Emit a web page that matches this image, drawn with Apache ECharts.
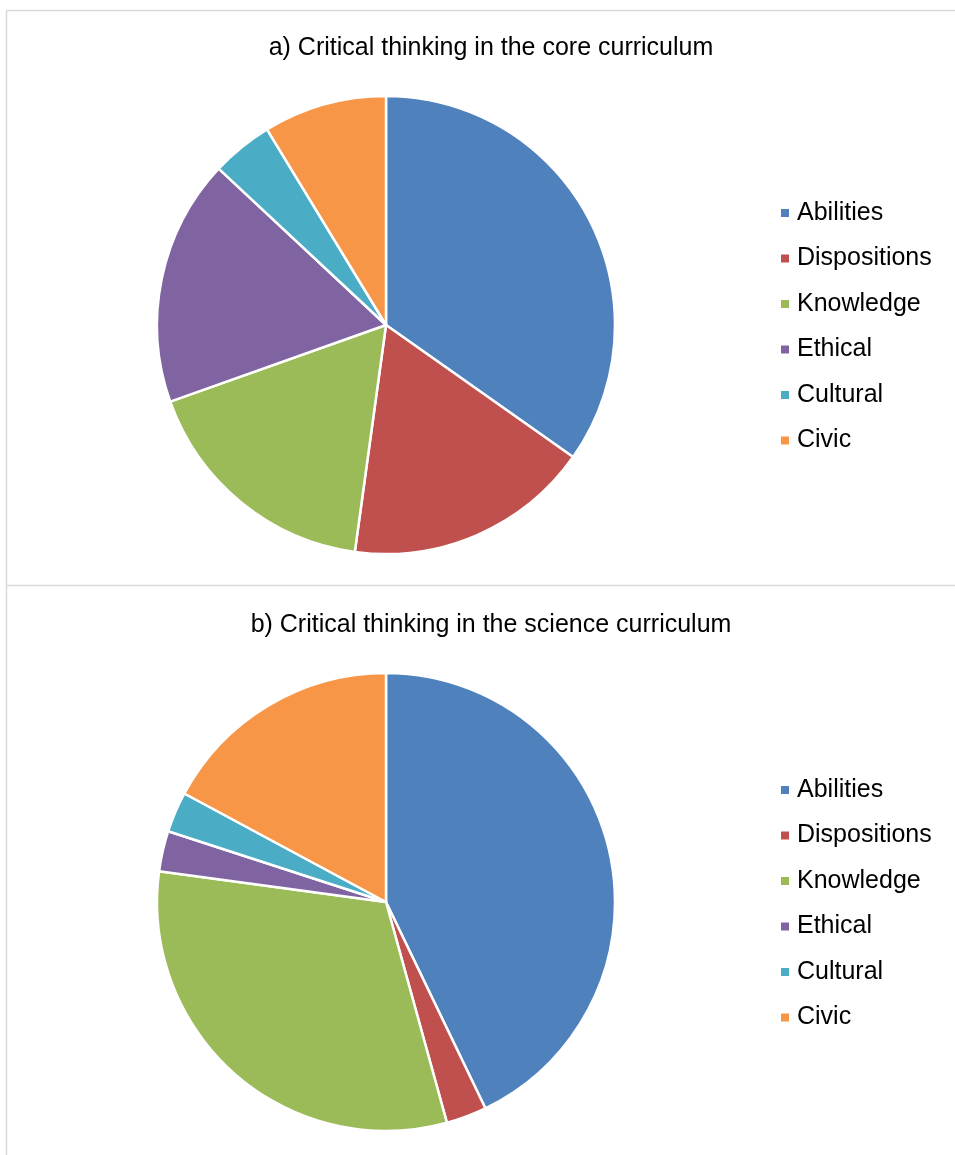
<!DOCTYPE html>
<html>
<head>
<meta charset="utf-8">
<script src="https://cdn.jsdelivr.net/npm/echarts@6/dist/echarts.min.js"></script>
<style>
  html, body { margin: 0; padding: 0; background: #fff; }
  #chart { width: 955px; height: 1155px; }
</style>
</head>
<body>
<div id="chart"></div>
<script>
// Categories of critical thinking and how often each appears in the curricula
const categories = ['Abilities', 'Dispositions', 'Knowledge', 'Ethical', 'Cultural', 'Civic'];
const coreCounts = [8, 4, 4, 4, 1, 2];
const scienceCounts = [15, 1, 11, 1, 1, 6];
const titles = ['a) Critical thinking in the core curriculum', 'b) Critical thinking in the science curriculum'];
const palette = ['#4F81BD', '#C0504D', '#9BBB59', '#8064A2', '#4BACC6', '#F79646'];

const font = 'Liberation Sans, Arial, sans-serif';

function toData(values) {
  return categories.map((name, i) => ({ name, value: values[i] }));
}

function legendAt(top) {
  return {
    orient: 'vertical',
    left: 774,
    top: top,
    itemWidth: 10,
    itemHeight: 10,
    itemGap: 17.5,
    icon: 'rect',
    selectedMode: false,
    data: categories,
    textStyle: { fontFamily: font, fontSize: 25, color: '#000', lineHeight: 28, padding: [0, 0, 0, 2] }
  };
}

function pieAt(cy, values) {
  return {
    type: 'pie',
    center: [386, cy],
    radius: 229,
    startAngle: 90,
    clockwise: true,
    label: { show: false },
    labelLine: { show: false },
    emphasis: { disabled: true },
    itemStyle: { borderColor: '#fff', borderWidth: 2.5 },
    data: toData(values)
  };
}

function titleAt(text, top) {
  return {
    text: text, left: 486, top: top, textAlign: 'center',
    textStyle: { fontFamily: font, fontSize: 25, fontWeight: 'normal', color: '#000' }
  };
}

const frame = '#d9d9d9';
const chart = echarts.init(document.getElementById('chart'), null, { renderer: 'canvas' });
chart.setOption({
  animation: false,
  color: palette,
  title: [titleAt(titles[0], 31), titleAt(titles[1], 608)],
  legend: [legendAt(194), legendAt(771)],
  series: [pieAt(325, coreCounts), pieAt(902, scienceCounts)],
  graphic: [
    { type: 'line', shape: { x1: 6, y1: 10.5, x2: 955, y2: 10.5 }, style: { stroke: frame, lineWidth: 1.5 } },
    { type: 'line', shape: { x1: 6.5, y1: 10, x2: 6.5, y2: 1155 }, style: { stroke: frame, lineWidth: 1.5 } },
    { type: 'line', shape: { x1: 6, y1: 585.5, x2: 955, y2: 585.5 }, style: { stroke: frame, lineWidth: 1.5 } }
  ]
});
</script>
</body>
</html>
